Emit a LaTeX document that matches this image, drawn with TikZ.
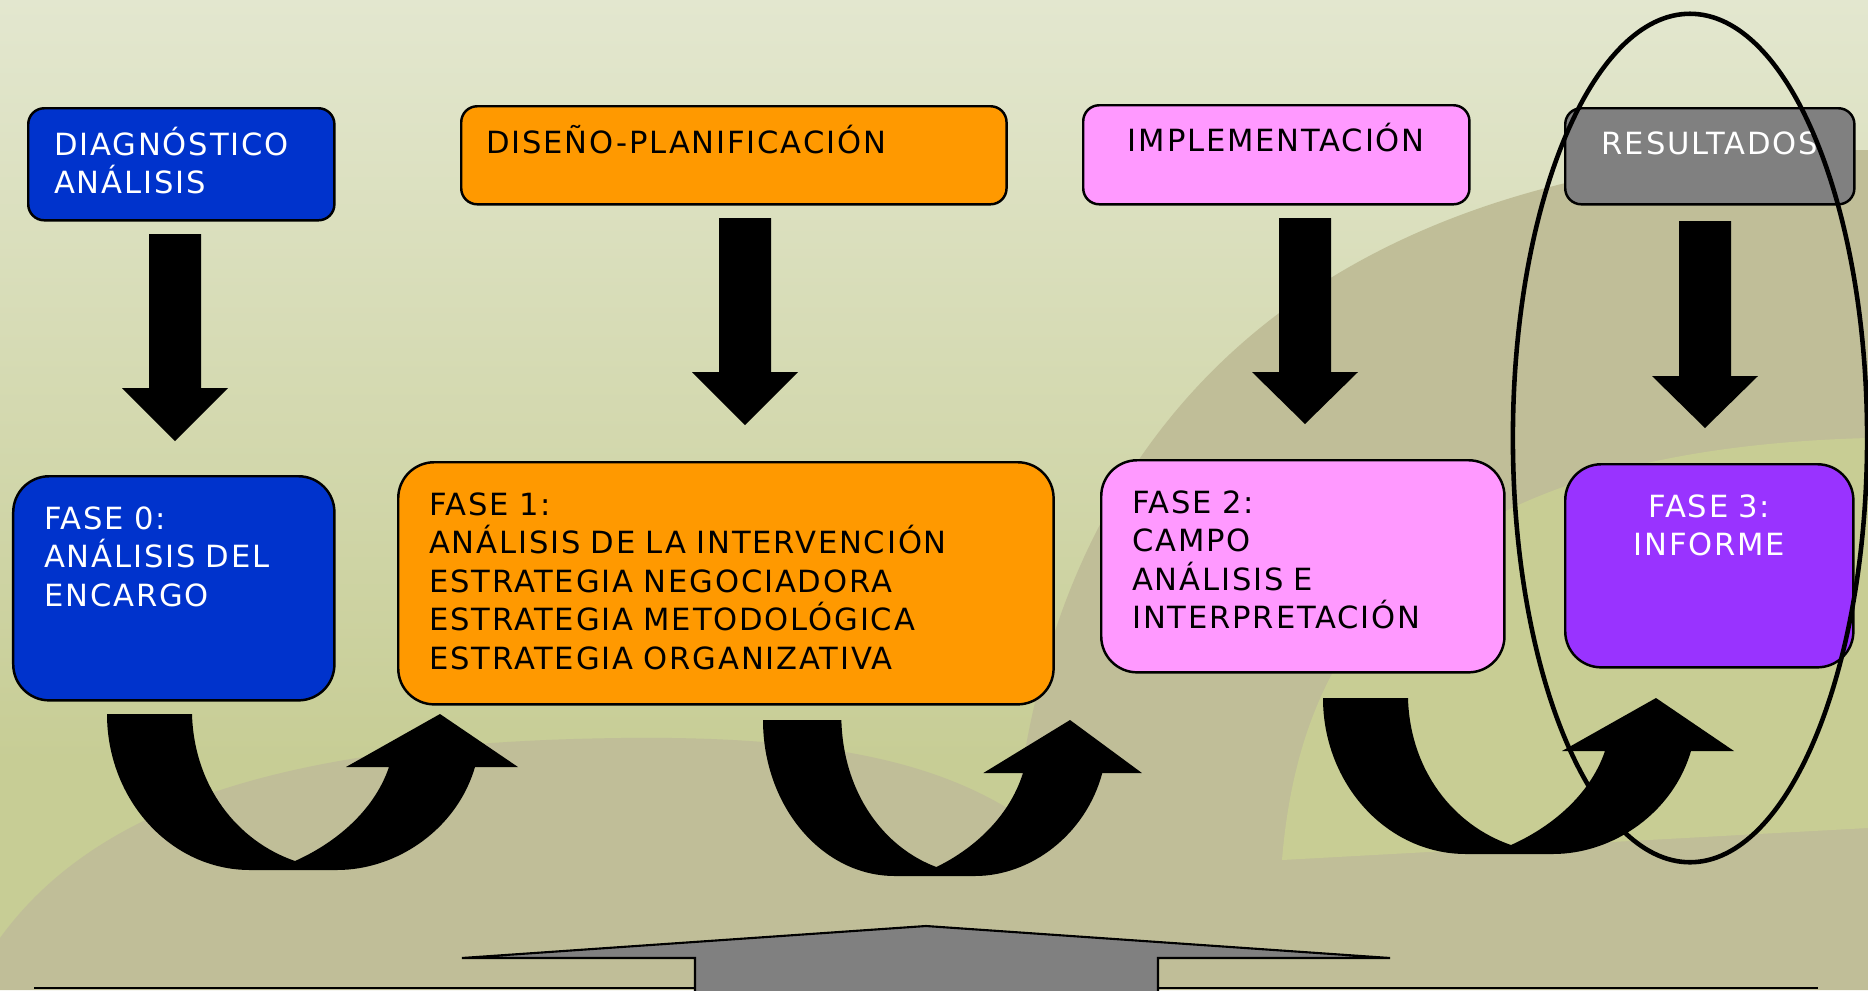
\documentclass[tikz,border=0pt]{standalone}
\usepackage{fontspec}
\newfontfamily\boxfont[LetterSpace=6]{DejaVu Sans}
\usetikzlibrary{calc}
\definecolor{BgTop}{HTML}{E3E7CF}
\definecolor{BgLow}{HTML}{C7CD95}
\definecolor{HillKhaki}{HTML}{C0BE98}
\definecolor{HillGreen}{HTML}{C8CD94}
\definecolor{PhaseBlue}{HTML}{0033CC}
\definecolor{PhaseOrange}{HTML}{FF9900}
\definecolor{PhasePink}{HTML}{FF99FF}
\definecolor{PhaseGray}{HTML}{808080}
\definecolor{PhasePurple}{HTML}{9933FF}
\tikzset{
  phase/.style={draw=black, line width=0.7pt, anchor=north west, inner ysep=0pt, align=left, font=\boxfont\fontsize{8.7}{10.96}\selectfont},
  headbox/.style={phase, rounded corners=0.16cm, inner xsep=0.26cm},
  fasebox/.style={phase, rounded corners=0.36cm, inner xsep=0.31cm},
  bluebox/.style={fill=PhaseBlue, text=white},
  orangebox/.style={fill=PhaseOrange},
  pinkbox/.style={fill=PhasePink},
  graybox/.style={fill=PhaseGray, text=white},
  purplebox/.style={fill=PhasePurple, text=white},
  boxdim/.style n args={3}{text width=#1cm, text height=#2cm, text depth=#3cm},
  blockarrow/.style={fill=black}
}

\begin{document}
\begin{tikzpicture}[x=0.01cm, y=-0.01cm]
\useasboundingbox (0,0) rectangle (1868,990);

% background and hills
\shade[top color=BgTop, bottom color=BgLow] (0,0) rectangle (1868,760);
\fill[BgLow] (0,759) rectangle (1868,990);
\fill[HillKhaki] (0,990) -- (0,938) .. controls (100,800) and (300,742) .. (620,738) .. controls (850,735) and (960,770) .. (1040,830) -- (1040,990) -- cycle;
\fill[HillKhaki] (1010,990) -- (1010,900) .. controls (1025,440) and (1300,150) .. (1868,150) -- (1868,990) -- cycle;
\fill[HillGreen] (1282,860) .. controls (1300,640) and (1420,450) .. (1868,438) -- (1868,828) -- cycle;

% top row
\node[headbox, bluebox, boxdim={2.54}{0.47}{0.65}] (diag) at (27,107) {DIAGNÓSTICO\\ANÁLISIS};
\node[headbox, orangebox, inner xsep=0.25cm, boxdim={4.95}{0.47}{0.51}] (diseno) at (460,105) {DISEÑO-PLANIFICACIÓN};
\node[headbox, pinkbox, align=center, boxdim={3.34}{0.46}{0.53}] (impl) at (1082,104) {IMPLEMENTACIÓN};
\node[headbox, graybox, align=center, boxdim={2.37}{0.46}{0.50}] (result) at (1564,107) {RESULTADOS};

% phases
\node[fasebox, bluebox, boxdim={2.59}{0.53}{1.71}] (fase0) at (12,475) {FASE 0:\\ANÁLISIS DEL\\ENCARGO};
\node[fasebox, orangebox, boxdim={5.93}{0.53}{1.89}] (fase1) at (397,461) {FASE 1:\\ANÁLISIS DE LA INTERVENCIÓN\\ESTRATEGIA NEGOCIADORA\\ESTRATEGIA METODOLÓGICA\\ESTRATEGIA ORGANIZATIVA};
\node[fasebox, pinkbox, boxdim={3.41}{0.53}{1.59}] (fase2) at (1100,459) {FASE 2:\\CAMPO\\ANÁLISIS E\\INTERPRETACIÓN};
\node[fasebox, purplebox, align=center, boxdim={2.26}{0.53}{1.50}] (fase3) at (1564,463) {FASE 3:\\INFORME};

% block arrows down
\foreach \cx/\yt/\yb/\yp in {175/234/388/441, 745/218/372/425, 1305/218/372/424, 1705/221/376/428}
  \fill[blockarrow] (\cx-26,\yt) -- (\cx+26,\yt) -- (\cx+26,\yb) -- (\cx+53,\yb) -- (\cx,\yp) -- (\cx-53,\yb) -- (\cx-26,\yb) -- cycle;

% curved arrows between phases
\foreach \ax/\ay/\sx in {107/714/1, 763/720/0.922, 1323/698/1}
  \fill[blockarrow, shift={(\ax,\ay)}, xscale=\sx] (0,0) -- (85,0) .. controls (87,72) and (130,127) .. (188,147) .. controls (224,131) and (266,100) .. (282,53) -- (239,53) -- (333,0) -- (411,53) -- (368,53) .. controls (350,115) and (290,156) .. (230,156) -- (143,156) .. controls (64,156) and (0,86) .. (0,0) -- cycle;

% bottom arrow
\draw[line width=0.6pt] (34,988) -- (1818,988);
\filldraw[fill=PhaseGray, draw=black, line width=0.6pt] (695,1000) -- (695,958) -- (462,958) -- (926,926) -- (1390,958) -- (1158,958) -- (1158,1000);

\draw[line width=1.3pt] (1690,438) ellipse [x radius=1.77cm, y radius=4.24cm];
\end{tikzpicture}
\end{document}
